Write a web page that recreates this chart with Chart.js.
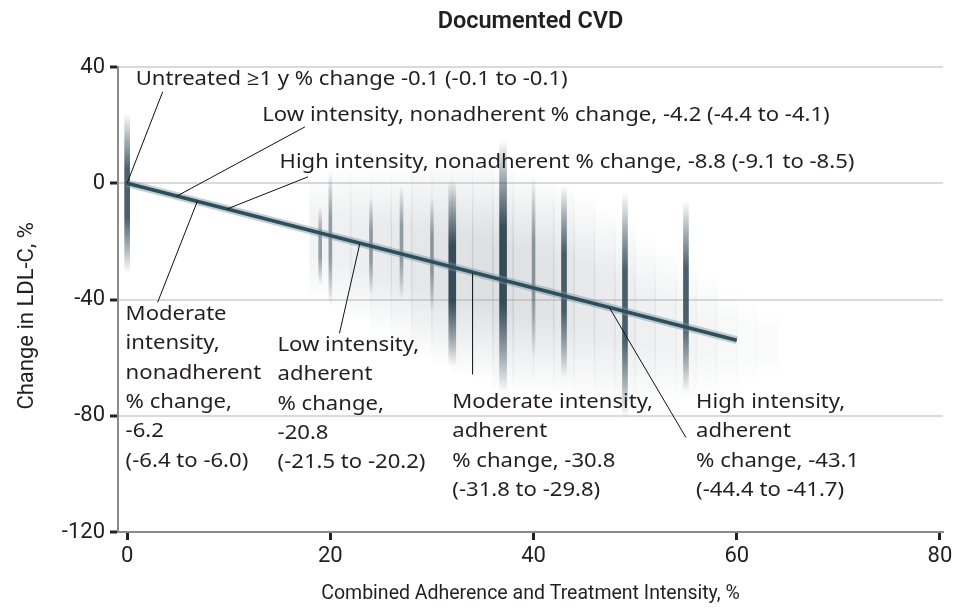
<!DOCTYPE html>
<html><head><meta charset="utf-8">
<script src="https://cdn.jsdelivr.net/npm/chart.js@4.4.1/dist/chart.umd.min.js"></script>
<style>html,body{margin:0;padding:0;background:#fff;}#wrap{width:963px;height:610px;}</style>
</head><body><div id="wrap"><canvas id="c" width="963" height="610"></canvas></div>
<script>
// ---- text ----
const titleText = 'Documented CVD';
const xAxisTitle = 'Combined Adherence and Treatment Intensity, %';
const yAxisTitle = 'Change in LDL-C, %';
const xTickValues = [0, 20, 40, 60, 80];
const yTickValues = [40, 0, -40, -80, -120];

// ---- vertical strips of observations (x, [upper, lower] % change) ----
const lightStripX = [19, 20, 24, 27, 30, 40];
const lightStripRange = [[-8, -35], [4, -42], [-5, -38], [-1, -40], [-5, -44], [2, -60]];
const mediumStripX = [0, 43, 49, 55];
const mediumStripRange = [[24, -31], [-1, -67], [-3, -81], [-6, -72]];
const heavyStripX = [32, 37];
const heavyStripRange = [[1, -63], [15, -72]];

// ---- diffuse cloud of observations ----
const cloudX = [19, 21, 23, 25, 27, 29, 31, 33, 35, 37, 39, 41, 43, 45, 47, 49, 51, 53, 55, 57, 59, 61, 63];
const cloudRange = [[4, -40], [6, -45], [6, -48], [6, -52], [6, -55], [8, -60], [8, -63], [8, -66], [8, -68], [6, -72],
  [4, -72], [2, -72], [0, -74], [-4, -74], [-8, -76], [-12, -78], [-18, -78], [-22, -76], [-26, -76], [-30, -74],
  [-36, -72], [-40, -70], [-44, -66]];
const cloudDensity = [0.4, 0.5, 0.55, 0.65, 0.7, 0.8, 0.9, 0.95, 1, 1, 0.95, 0.9, 0.8, 0.72, 0.65, 0.58, 0.5, 0.42, 0.36, 0.3, 0.22, 0.16, 0.12];

// ---- fitted line ----
const fitX = [0, 60];
const fitY = [0, -54];

// ---- annotations ----
const noteLines = [
  ['Untreated \u22651 y % change -0.1 (-0.1 to -0.1)'],
  ['Low intensity, nonadherent % change, -4.2 (-4.4 to -4.1)'],
  ['High intensity, nonadherent % change, -8.8 (-9.1 to -8.5)'],
  ['Moderate', 'intensity,', 'nonadherent', '% change,', '-6.2', '(-6.4 to -6.0)'],
  ['Low intensity,', 'adherent', '% change,', '-20.8', '(-21.5 to -20.2)'],
  ['Moderate intensity,', 'adherent', '% change, -30.8', '(-31.8 to -29.8)'],
  ['High intensity,', 'adherent', '% change, -43.1', '(-44.4 to -41.7)']
];
const noteAnchor = [[0.84, 35.6], [13.3, 23.5], [15.0, 7.3], [-0.15, -45.1], [14.8, -55.8], [32.0, -75.4], [56.0, -75.4]];
const noteLeader = [
  [[3.5, 31.5], [0, 0]],
  [[17.5, 19.4], [4.9, -4.4]],
  [[17.8, 2.2], [9.8, -8.9]],
  [[3.0, -41.0], [6.9, -6.3]],
  [[20.9, -51.6], [22.9, -20.8]],
  [[34, -31.0], [34, -65.8]],
  [[47.5, -43.0], [55, -87.5]]
];

// ---- fonts ----
const AXIS_FAMILY = 'Roboto, "Noto Sans", sans-serif';
const NOTE_FAMILY = '"Noto Sans", "Open Sans", sans-serif';
const TEXT = '#231f20';
const NOTE_PX = 20;

function shade(rgb, peak, density) {
  return (c) => {
    const chart = c.chart;
    if (!chart.chartArea || !c.raw) return 'rgba(0,0,0,0)';
    const r = c.raw.y, ys = chart.scales.y;
    const t = ys.getPixelForValue(Math.max(r[0], r[1]));
    const b = ys.getPixelForValue(Math.min(r[0], r[1]));
    const a = peak * (density ? density[c.dataIndex] : 1);
    const g = chart.ctx.createLinearGradient(0, t, 0, b);
    g.addColorStop(0, `rgba(${rgb},0)`);
    g.addColorStop(0.15, `rgba(${rgb},${a * 0.45})`);
    g.addColorStop(0.35, `rgba(${rgb},${a})`);
    g.addColorStop(0.65, `rgba(${rgb},${a})`);
    g.addColorStop(0.85, `rgba(${rgb},${a * 0.45})`);
    g.addColorStop(1, `rgba(${rgb},0)`);
    return g;
  };
}
const pts = (xs, rs) => xs.map((x, i) => ({ x: x, y: rs[i] }));

const notesPlugin = {
  id: 'notes',
  afterDatasetsDraw(chart) {
    const ctx = chart.ctx, xs = chart.scales.x, ys = chart.scales.y;
    ctx.save();
    ctx.strokeStyle = '#111'; ctx.lineWidth = 1;
    noteLeader.forEach(l => {
      ctx.beginPath();
      ctx.moveTo(xs.getPixelForValue(l[0][0]), ys.getPixelForValue(l[0][1]));
      ctx.lineTo(xs.getPixelForValue(l[1][0]), ys.getPixelForValue(l[1][1]));
      ctx.stroke();
    });
    ctx.font = NOTE_PX + 'px ' + NOTE_FAMILY;
    const ref = ctx.measureText(noteLines[0][0]).width;
    const stretch = 432 / ref;
    ctx.fillStyle = TEXT; ctx.textBaseline = 'middle'; ctx.textAlign = 'left';
    noteLines.forEach((lines, k) => {
      const px = xs.getPixelForValue(noteAnchor[k][0]);
      const py = ys.getPixelForValue(noteAnchor[k][1]);
      lines.forEach((t, i) => {
        ctx.save();
        ctx.translate(px, py + i * 29.3);
        ctx.scale(stretch, 1);
        ctx.fillText(t, 0, 0);
        ctx.restore();
      });
    });
    ctx.restore();
  }
};

const tickFont = { family: AXIS_FAMILY, size: 22 };
new Chart(document.getElementById('c'), {
  type: 'bar',
  data: {
    datasets: [
      { type: 'bar', label: 'cloud', data: pts(cloudX, cloudRange), grouped: false, barThickness: 21, backgroundColor: shade('145,153,158', 0.3, cloudDensity), order: 6 },
      { type: 'bar', label: 'light', data: pts(lightStripX, lightStripRange), grouped: false, barThickness: 3, backgroundColor: shade('70,92,103', 0.55), order: 5 },
      { type: 'bar', label: 'medium', data: pts(mediumStripX, mediumStripRange), grouped: false, barThickness: 5, backgroundColor: shade('50,74,86', 0.88), order: 4 },
      { type: 'bar', label: 'heavy', data: pts(heavyStripX, heavyStripRange), grouped: false, barThickness: 7, backgroundColor: shade('45,68,80', 0.95), order: 3 },
      { type: 'line', label: 'ci', data: fitX.map((x, i) => ({ x: x, y: fitY[i] })), borderColor: 'rgba(120,150,165,0.45)', borderWidth: 8, pointRadius: 0, order: 2 },
      { type: 'line', label: 'fit', data: fitX.map((x, i) => ({ x: x, y: fitY[i] })), borderColor: '#2f4d5a', borderWidth: 3.5, pointRadius: 0, order: 1 }
    ]
  },
  options: {
    responsive: false, animation: false,
    layout: { padding: { left: 0, right: 20, top: 0, bottom: 0 } },
    plugins: {
      legend: { display: false }, tooltip: { enabled: false },
      title: { display: true, text: titleText, fullSize: false, color: TEXT, font: { family: AXIS_FAMILY, size: 23.5, weight: '600' }, padding: { top: 8, bottom: 30.8 } }
    },
    scales: {
      x: {
        type: 'linear', min: -0.9, max: 80.3, offset: false,
        afterBuildTicks: s => { s.ticks = xTickValues.map(v => ({ value: v })); },
        afterFit: s => { s.height = 78; },
        grid: { display: true, drawOnChartArea: false, drawTicks: true, tickLength: 8, tickWidth: 3, tickColor: '#222', offset: false },
        border: { display: true, color: '#8a8a8a', width: 2 },
        ticks: { font: tickFont, color: TEXT, padding: 3, maxRotation: 0, autoSkip: false },
        title: { display: true, text: xAxisTitle, color: TEXT, font: { family: AXIS_FAMILY, size: 19.5 }, padding: { top: 0, bottom: 4 } }
      },
      y: {
        type: 'linear', min: -120, max: 40,
        afterBuildTicks: s => { s.ticks = yTickValues.map(v => ({ value: v })); },
        afterFit: s => { s.width = 118; },
        grid: { color: c => (c.tick && c.tick.value === -120 ? 'rgba(0,0,0,0)' : '#dadada'), lineWidth: 2, tickLength: 8, tickWidth: 3, tickColor: '#222' },
        border: { display: true, color: '#8a8a8a', width: 2 },
        ticks: { font: tickFont, color: TEXT, padding: 5, autoSkip: false },
        title: { display: true, text: yAxisTitle + '      ', color: TEXT, font: { family: AXIS_FAMILY, size: 22 }, padding: { top: 14, bottom: 0 } }
      }
    }
  },
  plugins: [notesPlugin]
});
</script></body></html>
